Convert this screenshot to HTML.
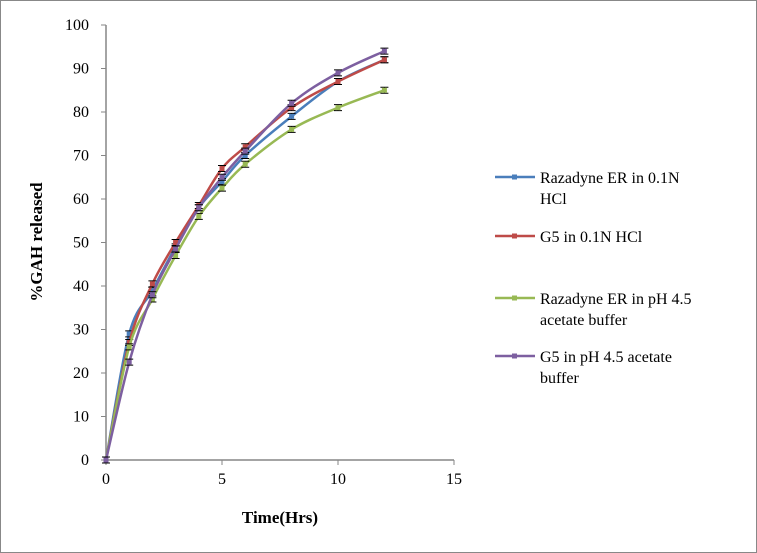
<!DOCTYPE html>
<html><head><meta charset="utf-8"><style>
body{margin:0;background:#fff;}
svg{display:block;font-family:"Liberation Serif",serif;}
</style></head><body>
<svg id="c" width="757" height="553">
<rect x="0.5" y="0.5" width="756" height="552" fill="#fff" stroke="#888"/>
<g id="axes"></g><g id="series"></g>
<text x="42" y="242" transform="rotate(-90 42 242)" text-anchor="middle" font-size="17" font-weight="bold">%GAH released</text>
<text x="280" y="523" text-anchor="middle" font-size="17" font-weight="bold">Time(Hrs)</text>
<g id="legend" font-size="16"></g>
</svg>
<script>
const times=[0,1,2,3,4,5,6,8,10,12];
const razHCl=[0,29,39,49,58,64,70,79,87,92];
const g5HCl=[0,27,40.5,50,58.5,67,72,81,87,92];
const razAc=[0,26,37,47,56,62.5,68,76,81,85];
const g5Ac=[0,22.5,38,48.5,58,65,71,82,89,94];
const xTicks=[0,5,10,15];
const yTicks=[0,10,20,30,40,50,60,70,80,90,100];
const names=["Razadyne ER in 0.1N|HCl","G5 in 0.1N HCl","Razadyne ER in pH 4.5|acetate buffer","G5 in pH 4.5 acetate|buffer"];
const colors=["#4a7ebb","#be4b48","#98b954","#7d5fa0"];
const NS="http://www.w3.org/2000/svg";
const X=v=>106+v*(454-106)/15, Y=v=>460-v*(460-25)/100;
function mk(t,a,p){const e=document.createElementNS(NS,t);for(const k in a)e.setAttribute(k,a[k]);p.appendChild(e);return e;}
const ax=document.getElementById('axes');
mk('line',{x1:106,y1:25,x2:106,y2:460,stroke:'#868686','stroke-width':1.5},ax);
mk('line',{x1:106,y1:460,x2:454,y2:460,stroke:'#868686','stroke-width':1.5},ax);
yTicks.forEach(v=>{mk('line',{x1:101,y1:Y(v),x2:106,y2:Y(v),stroke:'#868686'},ax);
const t=mk('text',{x:89,y:Y(v)+5,'text-anchor':'end','font-size':16},ax);t.textContent=v;

});
xTicks.forEach(v=>{mk('line',{x1:X(v),y1:460,x2:X(v),y2:465,stroke:'#868686'},ax);
const t=mk('text',{x:X(v),y:484,'text-anchor':'middle','font-size':16},ax);t.textContent=v;

});
const sg=document.getElementById('series');
const all=[razHCl,g5HCl,razAc,g5Ac];
function pathOf(pts){let d=`M${pts[0][0]},${pts[0][1]}`;for(let i=0;i<pts.length-1;i++){const p0=pts[i-1]||pts[i],p1=pts[i],p2=pts[i+1],p3=pts[i+2]||p2;
d+=` C${p1[0]+(p2[0]-p0[0])/6},${p1[1]+(p2[1]-p0[1])/6} ${p2[0]-(p3[0]-p1[0])/6},${p2[1]-(p3[1]-p1[1])/6} ${p2[0]},${p2[1]}`;}return d;}
all.forEach((s,si)=>{const g=mk('g',{},sg);


const pts=s.map((v,i)=>[X(times[i]),Y(v)]);
const p=mk('path',{d:pathOf(pts),fill:'none',stroke:colors[si],'stroke-width':2.5},g);


pts.forEach(([x,y])=>{const e=mk('path',{d:`M${x-4},${y-3}h8M${x},${y-3}v6M${x-4},${y+3}h8`,stroke:'#000','stroke-width':1},g);


const m=mk('rect',{x:x-2.5,y:y-2.5,width:5,height:5,fill:colors[si]},g);

});});
const lg=document.getElementById('legend');
const ly=[177,236,298,356];
names.forEach((n,i)=>{const g=mk('g',{},lg);


mk('line',{x1:495,y1:ly[i],x2:535,y2:ly[i],stroke:colors[i],'stroke-width':2.5},g);
mk('rect',{x:512,y:ly[i]-2.5,width:5,height:5,fill:colors[i]},g);
n.split('|').forEach((l,j)=>{const t=mk('text',{x:540,y:ly[i]+6+j*21},g);t.textContent=l;});});
</script>
</body></html>
